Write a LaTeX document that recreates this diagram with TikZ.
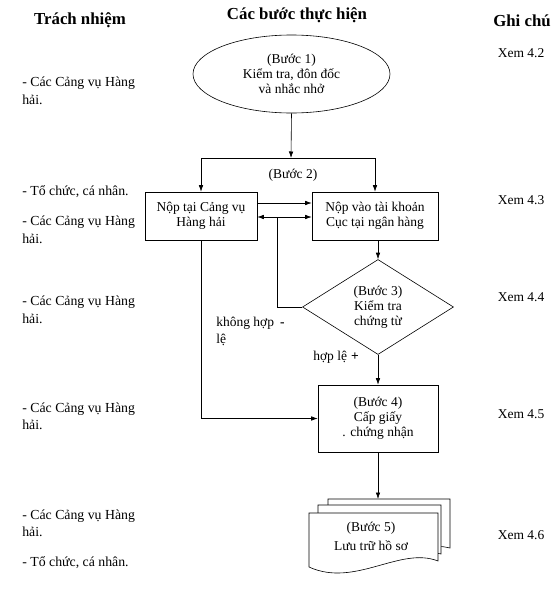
\documentclass[tikz,border=0pt]{standalone}
\usepackage{fontspec}
\setmainfont{Liberation Serif}
\usetikzlibrary{arrows.meta}
\usetikzlibrary{shapes.geometric}
\usetikzlibrary{calc}

\begin{document}
\begin{tikzpicture}[x=1pt,y=-1pt,line width=0.6pt,
    >={Latex[length=6.5pt,width=4.5pt]},
    txt/.style={font=\fontsize{13.5}{15}\selectfont,inner sep=0pt,align=center},
    lefttxt/.style={font=\fontsize{13.8}{17.5}\selectfont,inner sep=0pt,align=left,anchor=west},
    head/.style={font=\fontsize{16.8}{18}\selectfont\bfseries,inner sep=0pt},
    stepbox/.style={draw,rectangle,txt,minimum height=48pt}]
    %% define points
    \def\colA{201};
    \def\colB{378};
    \def\lx{22};
    \def\rx{521};

    \useasboundingbox (0,0) rectangle (554,589);

    %% headings
    \node[head] (hresp) at (80,20) {Trách nhiệm};
    \node[head] (hstep) at (297,15) {Các bước thực hiện};
    \node[head] (hnote) at (522,21) {Ghi chú};

    %% steps
    \node[draw,ellipse,txt,minimum width=197pt,minimum height=78pt] (kiem) at (291.5,74)
        {(Bước 1)\\Kiểm tra, đôn đốc\\và nhắc nhở};
    \node[txt] (buoc2) at (293,175) {(Bước 2)};
    \node[stepbox,minimum width=112pt] (noptai) at (\colA,216) {Nộp tại Cảng vụ\\Hàng hải};
    \node[stepbox,minimum width=126pt] (nopvao) at (375,216) {Nộp vào tài khoản\\Cục tại ngân hàng};
    \node[draw,diamond,txt,aspect=1.6,minimum width=151pt,minimum height=95pt] (ktra) at (\colB,307)
        {(Bước 3)\\Kiểm tra\\chứng từ};
    \node[stepbox,minimum width=120pt,minimum height=67pt] (capgiay) at (\colB,418.5)
        {(Bước 4)\\Cấp giấy\\. chứng nhận};

    %% stacked documents
    \draw[fill=white] (328,499) -- (450,499) -- (450,548) .. controls (420,540) and (380,565) .. (328,555) -- cycle;
    \draw[fill=white] (318,505) -- (441,505) -- (441,554) .. controls (410,546) and (370,571) .. (318,561) -- cycle;
    \draw[fill=white] (309,513) -- (438,513) -- (438,561) .. controls (400,546) and (355,588) .. (309,567) -- cycle;
    \node[txt,font=\fontsize{13.5}{19}\selectfont] (luutru) at (371,536.5) {(Bước 5)\\Lưu trữ hồ sơ};
    \coordinate (luutop) at (\colB,499);

    %% connectors
    \coordinate (split) at (291,158);
    \coordinate (loop) at (277,217);
    \coordinate (arrA) at (285,203);
    \draw[->] (kiem.south) -- (split);
    \draw[->] (split) -| (noptai.north);
    \draw[->] (split) -| (nopvao.north);
    \draw[->] (noptai.east |- arrA) -- (nopvao.west |- arrA);
    \draw[->] (loop) -- (noptai.east |- loop);
    \draw[->] (loop) -- (nopvao.west |- loop);
    \draw (ktra.west) -| (loop);
    \draw[->] (ktra.north |- nopvao.south) -- (ktra.north);
    \draw[->] (ktra.south) -- (capgiay.north);
    \draw[->] (noptai.south) |- (capgiay.west);
    \draw[->] (capgiay.south) -- (luutop);

    %% branch labels
    \node[lefttxt,font=\fontsize{13.5}{17}\selectfont] (khong) at (216,331.5) {không hợp\hspace{6pt}\textbf{-}\\lệ};
    \node[lefttxt,font=\fontsize{13.5}{17}\selectfont] (hople) at (313,357) {hợp lệ\hspace{4pt}\textbf{+}};

    %% responsibilities
    \node[lefttxt] (resp1) at (\lx,91) {- Các Cảng vụ Hàng\\hải.};
    \node[lefttxt] (resp2) at (\lx,192) {- Tổ chức, cá nhân.};
    \node[lefttxt] (resp3) at (\lx,230) {- Các Cảng vụ Hàng\\hải.};
    \node[lefttxt] (resp4) at (\lx,310) {- Các Cảng vụ Hàng\\hải.};
    \node[lefttxt] (resp5) at (\lx,416.5) {- Các Cảng vụ Hàng\\hải.};
    \node[lefttxt] (resp6) at (\lx,523.5) {- Các Cảng vụ Hàng\\hải.};
    \node[lefttxt] (resp7) at (\lx,563) {- Tổ chức, cá nhân.};

    %% notes
    \node[txt] (note2) at (\rx,53) {Xem 4.2};
    \node[txt] (note3) at (\rx,200) {Xem 4.3};
    \node[txt] (note4) at (\rx,297) {Xem 4.4};
    \node[txt] (note5) at (\rx,414) {Xem 4.5};
    \node[txt] (note6) at (\rx,535) {Xem 4.6};
\end{tikzpicture}
\end{document}
